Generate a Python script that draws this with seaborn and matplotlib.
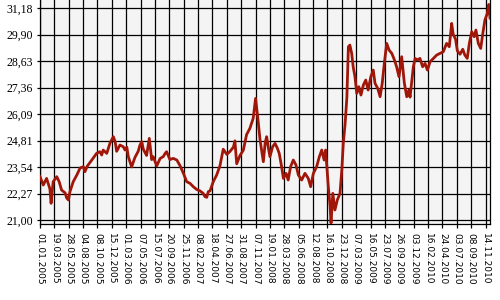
import matplotlib
matplotlib.use("Agg")
import matplotlib.pyplot as plt
import seaborn as sns
import pandas as pd

# trading-day index and closing value
days = [0, 11, 22, 33, 37, 44, 56, 64, 72, 84, 89, 95, 100, 111, 123, 134, 145, 150, 158, 173,
        189, 200, 206, 211, 223, 234, 245, 251, 256, 267, 278, 284, 290, 295, 306, 317, 328, 334, 340, 345,
        356, 365, 373, 378, 390, 401, 412, 418, 423, 434, 445, 457, 468, 479, 490, 501, 512, 523, 534, 545,
        551, 557, 562, 568, 579, 590, 601, 607, 612, 624, 635, 646, 651, 657, 668, 679, 690, 701, 712, 720,
        727, 735, 740, 746, 752, 757, 763, 768, 777, 785, 793, 799, 807, 813, 822, 829, 837, 846, 855, 863,
        874, 885, 896, 904, 913, 924, 933, 941, 949, 954, 963, 969, 972, 978, 985, 993, 1002, 1008, 1013, 1019,
        1025, 1030, 1035, 1041, 1046, 1052, 1058, 1065, 1072, 1080, 1088, 1096, 1105, 1113, 1119, 1128, 1136, 1143, 1150, 1158,
        1166, 1175, 1184, 1191, 1199, 1208, 1217, 1225, 1232, 1236, 1241, 1247, 1253, 1260, 1269, 1278, 1286, 1294, 1303, 1314,
        1325, 1336, 1347, 1358, 1367, 1375, 1380, 1388, 1394, 1403, 1412, 1419, 1427, 1434, 1442, 1450, 1456, 1464, 1472, 1479,
        1486, 1494, 1499, 1503]
values = [23.08, 22.68, 23.00, 22.50, 21.80, 22.84, 23.08, 22.84, 22.44, 22.30, 22.06, 21.96, 22.36, 22.84, 23.16, 23.50, 23.56, 23.32, 23.59, 23.88,
          24.20, 24.28, 24.12, 24.36, 24.20, 24.70, 25.00, 24.76, 24.30, 24.60, 24.52, 24.36, 24.50, 24.04, 23.55, 24.00, 24.30, 24.60, 24.76, 24.40,
          24.10, 24.92, 23.90, 24.04, 23.60, 23.95, 24.05, 24.20, 24.28, 23.90, 23.96, 23.88, 23.60, 23.24, 22.84, 22.76, 22.60, 22.47, 22.40, 22.28,
          22.12, 22.09, 22.36, 22.40, 22.85, 23.16, 23.60, 24.04, 24.40, 24.15, 24.30, 24.50, 24.80, 23.70, 24.10, 24.35, 25.10, 25.40, 25.88, 26.84,
          25.96, 24.84, 24.36, 23.80, 24.70, 25.00, 24.44, 24.04, 24.52, 24.68, 24.44, 24.20, 23.56, 23.00, 23.24, 22.92, 23.56, 23.88, 23.64, 23.16,
          22.92, 23.24, 23.00, 22.60, 23.24, 23.56, 24.04, 24.36, 23.88, 24.36, 22.60, 21.64, 20.85, 22.28, 21.48, 21.96, 22.28, 23.40, 24.68, 25.60,
          26.90, 29.32, 29.40, 29.00, 28.36, 27.88, 27.08, 27.40, 27.00, 27.48, 27.72, 27.24, 27.88, 28.20, 27.56, 27.32, 26.92, 27.56, 28.52, 29.48,
          29.16, 29.00, 28.68, 28.36, 27.88, 28.84, 27.56, 26.92, 27.24, 26.90, 27.56, 28.36, 28.76, 28.68, 28.76, 28.36, 28.52, 28.20, 28.60, 28.76,
          28.92, 29.00, 29.08, 29.48, 29.32, 30.44, 29.92, 29.68, 29.12, 28.96, 29.20, 28.92, 28.76, 29.48, 30.04, 29.80, 30.12, 29.48, 29.24, 29.96,
          30.60, 30.92, 31.35, 30.70]

tick_days = [48 * i for i in range(32)]
tick_labels = ["01.01.2005", "19.03.2005", "28.05.2005", "04.08.2005", "08.10.2005", "15.12.2005",
               "01.03.2006", "07.05.2006", "15.07.2006", "20.09.2006", "25.11.2006", "08.02.2007",
               "18.04.2007", "27.06.2007", "31.08.2007", "07.11.2007", "19.01.2008", "28.03.2008",
               "05.06.2008", "12.08.2008", "16.10.2008", "23.12.2008", "07.03.2009", "16.05.2009",
               "23.07.2009", "26.09.2009", "03.12.2009", "16.02.2010", "24.04.2010", "03.07.2010",
               "08.09.2010", "14.11.2010"]
y_ticks = [21.00, 22.27, 23.54, 24.81, 26.09, 27.36, 28.63, 29.90, 31.18]
y_labels = ["21,00", "22,27", "23,54", "24,81", "26,09", "27,36", "28,63", "29,90", "31,18"]

df = pd.DataFrame({"day": days, "value": values})

fig = plt.figure(figsize=(5, 3), dpi=100, facecolor="white")
ax = fig.add_axes([0.08, 0.2533, 0.90, 0.7467])
ax.set_facecolor("#F4F4F4")

sns.lineplot(data=df, x="day", y="value", ax=ax, color="#A0170A", linewidth=2.0, zorder=3)

ax.set_xlim(0, 1503)
ax.set_ylim(20.808, 31.564)
ax.set_xticks(tick_days)
ax.set_xticklabels(tick_labels, rotation=270, fontsize=6.5, family="DejaVu Sans")
ax.set_yticks(y_ticks)
ax.set_yticklabels(y_labels, fontsize=8.5, family="Liberation Serif")
ax.grid(True, color="black", linewidth=0.9, zorder=1)
ax.set_axisbelow(True)
ax.tick_params(axis="x", length=3, width=0.9, pad=3.5, color="black")
ax.tick_params(axis="y", length=2.5, width=0.9, pad=2.5, color="black")
ax.set_xlabel("")
ax.set_ylabel("")
for side in ["left", "bottom", "right"]:
    ax.spines[side].set_color("black")
    ax.spines[side].set_linewidth(0.9)
ax.spines["top"].set_visible(False)

fig.savefig("out.png", dpi=100, facecolor="white")
